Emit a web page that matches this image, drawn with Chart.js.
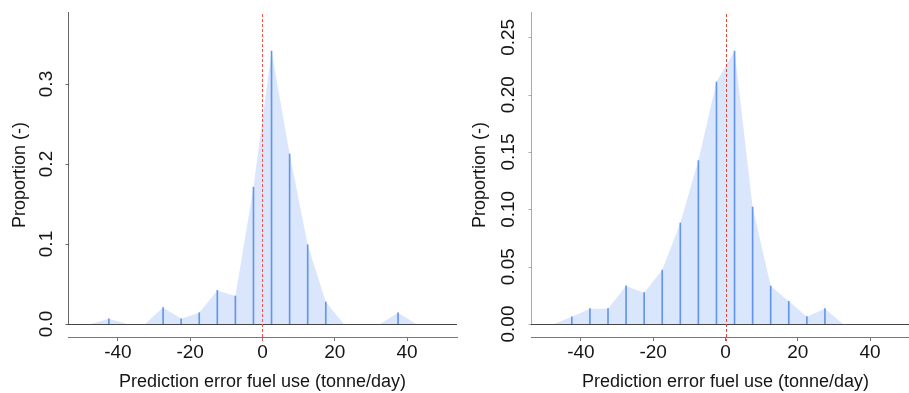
<!DOCTYPE html>
<html>
<head>
<meta charset="utf-8">
<script src="https://cdn.jsdelivr.net/npm/chart.js@4.4.1/dist/chart.umd.min.js"></script>
<style>
  html, body { margin: 0; padding: 0; background: #fff; overflow: hidden; width: 909px; height: 393px; }
  .panel { position: absolute; top: 0; }
  canvas { display: block; }
</style>
</head>
<body>
<div class="panel" style="left:0"><canvas id="leftChart" width="460" height="393"></canvas></div>
<div class="panel" style="left:460px"><canvas id="rightChart" width="460" height="393"></canvas></div>
<script>
// Bin midpoints of the prediction error histogram (tonne/day)
const binMids = [-47.5, -42.5, -37.5, -32.5, -27.5, -22.5, -17.5, -12.5, -7.5, -2.5,
                 2.5, 7.5, 12.5, 17.5, 22.5, 27.5, 32.5, 37.5, 42.5, 47.5];
// Proportion of days falling in each bin
const leftProportion = [0, 0.0065, 0, 0, 0.0205, 0.0065, 0.014, 0.042, 0.035, 0.171,
                        0.341, 0.2125, 0.099, 0.0275, 0, 0, 0, 0.014, 0, 0];
const rightProportion = [0, 0.0063, 0.0134, 0.0134, 0.0332, 0.0273, 0.047, 0.0881, 0.1425, 0.211,
                         0.238, 0.102, 0.0331, 0.0198, 0.0064, 0.0134, 0, 0, 0, 0];

const xTicks = [-40, -20, 0, 20, 40];
const leftYTicks = [0, 0.1, 0.2, 0.3];
const leftYLabels = ['0.0', '0.1', '0.2', '0.3'];
const rightYTicks = [0, 0.05, 0.10, 0.15, 0.20, 0.25];
const rightYLabels = ['0.00', '0.05', '0.10', '0.15', '0.20', '0.25'];
const xTitle = 'Prediction error fuel use (tonne/day)';
const yTitle = 'Proportion (-)';

const FONT = "'Liberation Sans', Arial, Helvetica, sans-serif";
const TEXT = '#151515';

// Axis line, rotated y tick labels, zero baseline and the dashed zero-error reference
function axisDecor(style) {
  return {
    id: 'axisDecor',
    afterDatasetsDraw(chart) {
      const {ctx, chartArea: a, scales: {x, y}} = chart;
      const y0 = Math.round(y.getPixelForValue(0)) + 0.5;
      const ax = Math.round(a.left) + 0.5;
      ctx.save();
      ctx.lineWidth = 1;
      // y axis line and tick marks
      ctx.strokeStyle = style.axisColor;
      ctx.beginPath();
      ctx.moveTo(ax, a.top - 1);
      ctx.lineTo(ax, y0);
      style.tickValues.forEach(v => {
        const py = Math.round(y.getPixelForValue(v)) + 0.5;
        ctx.moveTo(ax - 3, py);
        ctx.lineTo(ax, py);
      });
      ctx.stroke();
      // rotated tick labels
      ctx.fillStyle = TEXT;
      ctx.font = '19px ' + FONT;
      ctx.textAlign = 'center';
      ctx.textBaseline = 'middle';
      style.tickValues.forEach((v, i) => {
        const py = y.getPixelForValue(v);
        ctx.save();
        ctx.translate(style.labelX, py);
        ctx.rotate(-Math.PI / 2);
        ctx.fillText(style.tickText[i], 0, 0);
        ctx.restore();
      });
      // zero baseline
      ctx.strokeStyle = '#444';
      ctx.beginPath();
      ctx.moveTo(a.left, y0);
      ctx.lineTo(a.right, y0);
      ctx.stroke();
      // dashed reference at zero error, snapped to an even pixel column
      const rx = 2 * Math.round(x.getPixelForValue(0) / 2) + 0.5;
      ctx.strokeStyle = style.refColor;
      ctx.setLineDash([3, 2]);
      ctx.beginPath();
      ctx.moveTo(rx, a.top + 1);
      ctx.lineTo(rx, a.bottom + 4);
      ctx.stroke();
      ctx.restore();
    }
  };
}

function makeChart(id, values, yMin, yMax, axisWidth, padRight, style) {
  const pts = binMids.map((m, i) => ({x: m, y: values[i]}));
  const spikes = binMids.map((m, i) => ({x: m, y: values[i] > 0 ? values[i] : null}));
  return new Chart(document.getElementById(id), {
    type: 'bar',
    data: {
      datasets: [
        {
          type: 'line',
          data: pts,
          order: 2,
          fill: 'origin',
          backgroundColor: 'rgba(100,149,237,0.24)',
          borderColor: 'rgba(0,0,0,0)',
          borderWidth: 0,
          pointRadius: 0,
          tension: 0
        },
        {
          type: 'bar',
          data: spikes,
          order: 1,
          barThickness: 1,
          backgroundColor: '#6495ed',
          borderWidth: 0
        }
      ]
    },
    options: {
      responsive: false,
      devicePixelRatio: 1,
      animation: false,
      events: [],
      layout: {padding: {top: 13, right: padRight, bottom: 0, left: 0}},
      plugins: {
        legend: {display: false},
        tooltip: {enabled: false}
      },
      scales: {
        x: {
          type: 'linear',
          offset: false,
          min: -53.8,
          max: 53.8,
          afterBuildTicks: s => { s.ticks = xTicks.map(v => ({value: v})); },
          afterFit: s => { s.height = 56; },
          ticks: {font: {family: FONT, size: 19}, color: TEXT, padding: 0, maxRotation: 0, autoSkip: false},
          grid: {offset: false, drawOnChartArea: false, drawTicks: true, tickLength: 4, color: '#777'},
          border: {display: true, color: '#777', width: 1},
          title: {display: true, text: xTitle, font: {family: FONT, size: 18}, color: TEXT, padding: {top: 0, bottom: 0}}
        },
        y: {
          type: 'linear',
          min: yMin,
          max: yMax,
          afterFit: s => { s.width = axisWidth; },
          ticks: {display: false},
          grid: {display: false},
          border: {display: false},
          title: {display: true, text: yTitle, font: {family: FONT, size: 18}, color: TEXT, padding: {top: 9, bottom: 0}}
        }
      }
    },
    plugins: [axisDecor(style)]
  });
}

makeChart('leftChart', leftProportion, -0.01625, 0.38875, 68, 3,
  {tickValues: leftYTicks, tickText: leftYLabels, labelX: 47, axisColor: '#666', refColor: 'rgb(250,80,80)'});
makeChart('rightChart', rightProportion, -0.01134, 0.2712, 71, 0,
  {tickValues: rightYTicks, tickText: rightYLabels, labelX: 49, axisColor: '#aaa', refColor: 'rgb(217,72,63)'});
</script>
</body>
</html>
